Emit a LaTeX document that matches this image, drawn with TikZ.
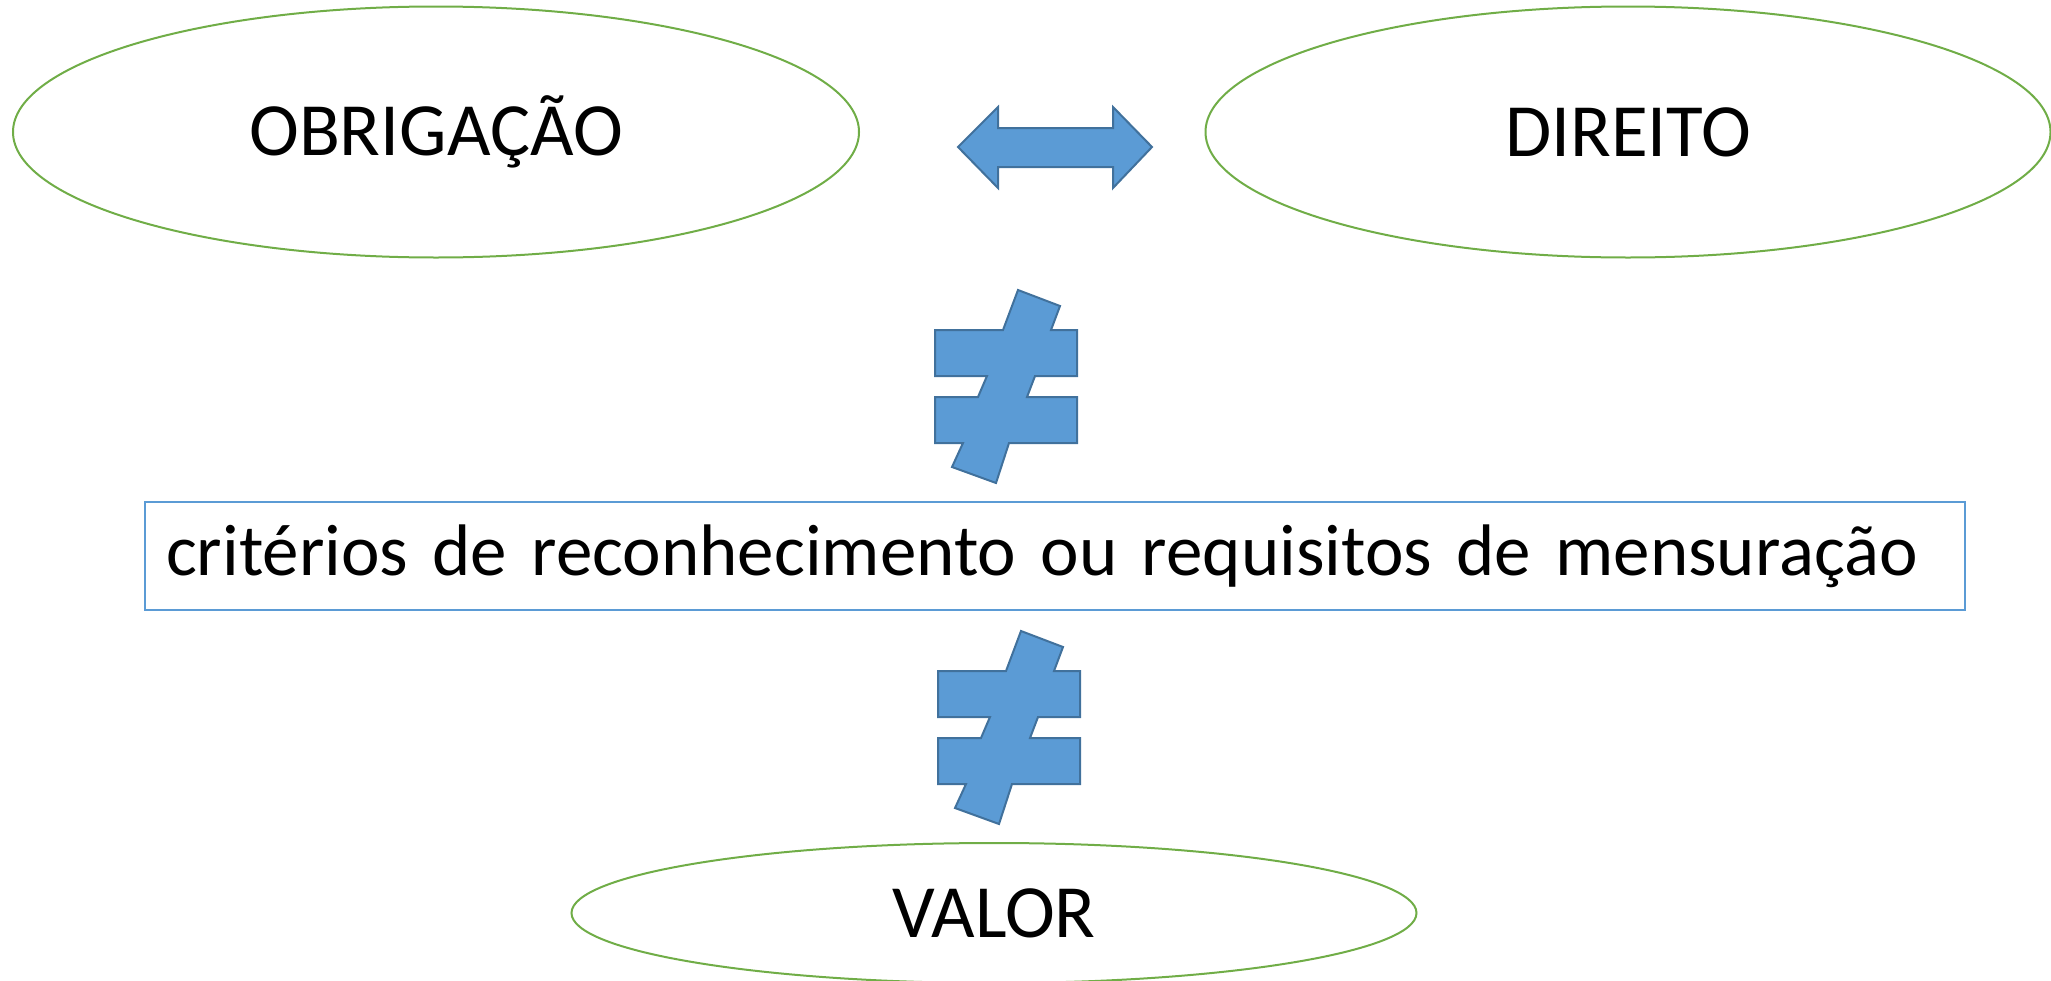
\documentclass[tikz,border=0pt]{standalone}
\usepackage{fontspec}
\setmainfont{Carlito}
\usepackage{tikz}
\usetikzlibrary{shapes.geometric}
\definecolor{ovalgreen}{HTML}{70AD47}
\definecolor{shapeblue}{HTML}{5B9BD5}
\definecolor{shapeedge}{HTML}{41719C}

\begin{document}
\begin{tikzpicture}[x=0.5pt,y=-0.5pt,
	oval/.style={ellipse,draw=ovalgreen,line width=1pt,inner sep=0pt,font=\fontsize{37.6}{45}\selectfont},
	critbox/.style={draw=shapeblue,line width=0.8pt,inner xsep=10.5pt,inner ysep=0pt,
		text width=889pt,minimum height=54pt,align=left,font=\fontsize{36.5}{44}\selectfont},
	blueshape/.style={fill=shapeblue,draw=shapeedge,line width=1pt,line join=miter}]
	\useasboundingbox (0,0) rectangle (2051,980);
	\node[oval,minimum width=423pt,minimum height=125.5pt] (obrig) at (436,132) {OBRIGAÇÃO};
	\node[oval,minimum width=422.5pt,minimum height=125.5pt] (direito) at (1628,132) {DIREITO};
	\node[critbox] (crit) at (1055,556) {\mbox{critérios de reconhecimento ou requisitos de mensuração}};
	\node[oval,minimum width=422.5pt,minimum height=70pt] (valor) at (994,913) {VALOR};
	
	% seta dupla
	\draw[blueshape] (958,147)--(998,107)--(998,128)--(1113,128)--(1113,107)--(1152,147)
		--(1113,188)--(1113,167)--(998,167)--(998,188)--cycle;
	
	% sinais de diferente
	\foreach \dx/\dy in {0/0,3/341}{
	\begin{scope}[shift={(\dx,\dy)}]
		\draw[blueshape] (1018,290)--(1060,306)--(1051,330)--(1077,330)--(1077,376)--(1035,376)
			--(1027,397)--(1077,397)--(1077,443)--(1009,443)--(996,483)--(952,467)--(963,443)
			--(935,443)--(935,397)--(978,397)--(987,376)--(935,376)--(935,330)--(1003,330)--cycle;
	\end{scope}
	}
\end{tikzpicture}
\end{document}
